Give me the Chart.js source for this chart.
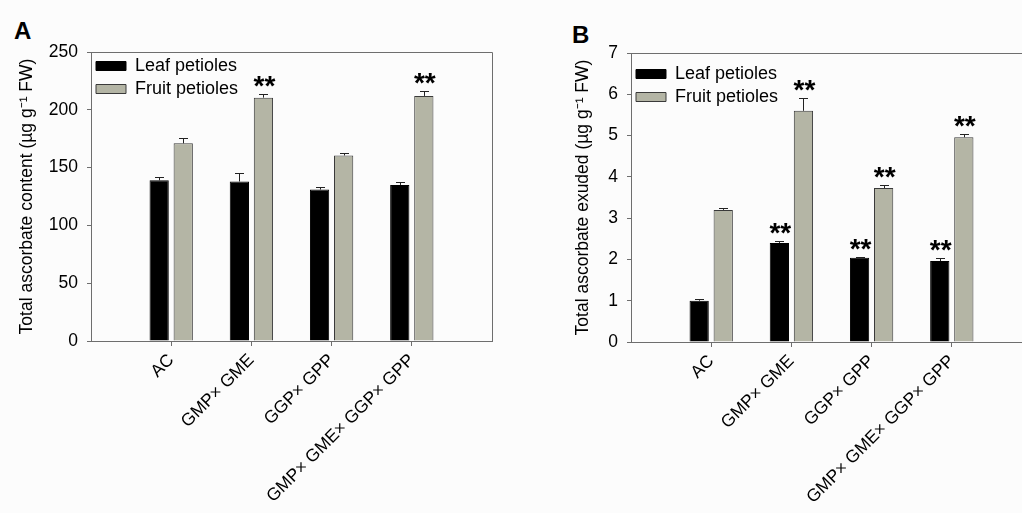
<!DOCTYPE html>
<html>
<head>
<meta charset="utf-8">
<script src="https://cdn.jsdelivr.net/npm/chart.js@4.4.0/dist/chart.umd.min.js"></script>
<style>
  html, body { margin: 0; padding: 0; background: #fcfcfc; overflow: hidden; }
  body { width: 1022px; height: 513px; position: relative; font-family: "Liberation Sans", Arial, sans-serif; }
  .panel { position: absolute; top: 0; height: 513px; }
  .panel canvas { display: block; }
  .letter { position: absolute; font-weight: bold; font-size: 24px; color: #000; }
</style>
</head>
<body>
<div class="letter" style="left:14px; top:17px;">A</div>
<div class="letter" style="left:572px; top:21px;">B</div>
<div class="panel" style="left:0; width:511px;"><canvas id="chartA" width="511" height="513" style="width:511px;height:513px;"></canvas></div>
<div class="panel" style="left:511px; width:540px;"><canvas id="chartB" width="540" height="513" style="width:540px;height:513px;"></canvas></div>
<script>
// categories and values
var categories = ['AC', 'GMP\u00d7 GME', 'GGP\u00d7 GPP', 'GMP\u00d7 GME\u00d7 GGP\u00d7 GPP'];
var seriesNames = ['Leaf petioles', 'Fruit petioles'];

// panel A: total ascorbate content
var contentLeaf = [139, 138, 131, 135];
var contentLeafErr = [2.5, 7.5, 2.5, 2.6];
var contentLeafSig = [false, false, false, false];
var contentFruit = [171, 210.5, 160.5, 212];
var contentFruitErr = [5, 3, 2.3, 4.3];
var contentFruitSig = [false, true, false, true];
var contentTicks = [0, 50, 100, 150, 200, 250];

// panel B: total ascorbate exuded
var exudedLeaf = [1.0, 2.4, 2.04, 1.96];
var exudedLeafErr = [0.05, 0.04, 0.02, 0.08];
var exudedLeafSig = [false, true, true, true];
var exudedFruit = [3.2, 5.6, 3.73, 4.96];
var exudedFruitErr = [0.04, 0.3, 0.08, 0.08];
var exudedFruitSig = [false, true, true, true];
var exudedTicks = [0, 1, 2, 3, 4, 5, 6, 7];

var axisColor = '#6e6e6e';
var fontFamily = '"Liberation Sans", Arial, sans-serif';

function toPoints(values) {
    return values.map(function (v, i) { return { x: i, y: v }; });
}

// error bars (upper half only) and significance stars
const errorBarPlugin = {
    id: 'errorBars',
    afterDatasetsDraw(chart) {
        const ctx = chart.ctx;
        const yScale = chart.scales.y;
        chart.data.datasets.forEach(function (ds, di) {
            const meta = chart.getDatasetMeta(di);
            meta.data.forEach(function (bar, i) {
                const v = ds.data[i].y;
                const yTop = yScale.getPixelForValue(v + ds.errors[i]);
                ctx.save();
                ctx.strokeStyle = '#222';
                ctx.lineWidth = 1;
                ctx.beginPath();
                ctx.moveTo(Math.round(bar.x) + 0.5, bar.y);
                ctx.lineTo(Math.round(bar.x) + 0.5, Math.round(yTop) + 0.5);
                ctx.moveTo(Math.round(bar.x) - 4, Math.round(yTop) + 0.5);
                ctx.lineTo(Math.round(bar.x) + 5, Math.round(yTop) + 0.5);
                ctx.stroke();
                if (ds.sig[i]) {
                    ctx.font = 'bold 28px ' + fontFamily;
                    ctx.fillStyle = '#000';
                    ctx.textAlign = 'center';
                    ctx.textBaseline = 'alphabetic';
                    const m = ctx.measureText('**');
                    ctx.fillText('**', bar.x + 1, yTop - 7 - m.actualBoundingBoxDescent);
                }
                ctx.restore();
            });
        });
    }
};

// top and right frame lines of the plot box; also pins the legend inside the plot
const framePlugin = {
    id: 'frame',
    afterLayout(chart, args, options) {
        const lg = chart.legend;
        if (lg) {
            const dy = chart.chartArea.top + (options.legendShift || 0) - lg.top;
            lg.top += dy;
            lg.bottom += dy;
        }
    },
    beforeDatasetsDraw(chart) {
        const a = chart.chartArea;
        const ctx = chart.ctx;
        ctx.save();
        ctx.strokeStyle = axisColor;
        ctx.lineWidth = 1;
        ctx.beginPath();
        ctx.moveTo(a.left, Math.round(a.top) + 0.5);
        ctx.lineTo(Math.round(a.right) + 0.5, Math.round(a.top) + 0.5);
        ctx.lineTo(Math.round(a.right) + 0.5, a.bottom);
        ctx.stroke();
        ctx.restore();
    }
};

function makeChart(id, opts) {
    const data1 = {
        datasets: [{
            label: seriesNames[0],
            data: toPoints(opts.leaf),
            errors: opts.leafErr,
            sig: opts.leafSig,
            backgroundColor: '#000000',
            borderColor: '#000000',
            borderWidth: 1,
            categoryPercentage: 0.6,
            barPercentage: 0.8
        }, {
            label: seriesNames[1],
            data: toPoints(opts.fruit),
            errors: opts.fruitErr,
            sig: opts.fruitSig,
            backgroundColor: '#b4b5a5',
            borderColor: '#3a3a3a',
            borderWidth: 1,
            categoryPercentage: 0.6,
            barPercentage: 0.8
        }]
    };

    const config = {
        type: 'bar',
        data: data1,
        options: {
            responsive: false,
            maintainAspectRatio: false,
            animation: false,
            layout: { padding: { left: 0, top: opts.top, right: 19, bottom: 0 } },
            plugins: {
                frame: { legendShift: opts.legendShift },
                legend: {
                    position: 'chartArea',
                    align: 'start',
                    labels: {
                        boxWidth: 30,
                        boxHeight: 9,
                        padding: 5,
                        color: '#000',
                        font: { size: 18, family: fontFamily }
                    }
                },
                tooltip: { enabled: false }
            },
            scales: {
                x: {
                    type: 'linear',
                    min: -1,
                    max: 4,
                    offset: false,
                    border: { display: true, color: axisColor, width: 1 },
                    grid: { display: true, offset: false, drawOnChartArea: false, drawTicks: true, tickLength: 5, color: axisColor },
                    afterBuildTicks: function (scale) {
                        scale.ticks = categories.map(function (c, i) { return { value: i }; });
                    },
                    afterFit: function (scale) { scale.height = 513 - opts.bottom; },
                    ticks: {
                        autoSkip: false,
                        minRotation: 45,
                        maxRotation: 45,
                        padding: 4,
                        color: '#000',
                        font: { size: 17.5, family: fontFamily },
                        callback: function (value) { return categories[value]; }
                    }
                },
                y: {
                    min: opts.ticks[0],
                    max: opts.ticks[opts.ticks.length - 1],
                    border: { display: true, color: axisColor, width: 1 },
                    grid: { display: true, drawOnChartArea: false, drawTicks: true, tickLength: 4, color: axisColor },
                    afterBuildTicks: function (scale) {
                        scale.ticks = opts.ticks.map(function (t) { return { value: t }; });
                    },
                    afterFit: function (scale) { scale.width = opts.left; },
                    ticks: {
                        padding: 9,
                        color: '#000',
                        font: { size: 17.5, family: fontFamily }
                    },
                    title: {
                        display: true,
                        text: opts.title,
                        color: '#000',
                        padding: { top: opts.titlePad, bottom: 0 },
                        font: { size: 17.5, family: fontFamily }
                    }
                }
            }
        },
        plugins: [framePlugin, errorBarPlugin]
    };

    return new Chart(document.getElementById(id), config);
}

makeChart('chartA', {
    left: 91, top: 52, bottom: 341, titlePad: 17, legendShift: 0,
    title: 'Total ascorbate content (\u00b5g g\u207b\u00b9 FW)',
    ticks: contentTicks,
    leaf: contentLeaf, leafErr: contentLeafErr, leafSig: contentLeafSig,
    fruit: contentFruit, fruitErr: contentFruitErr, fruitSig: contentFruitSig
});

makeChart('chartB', {
    left: 120, top: 53, bottom: 342, titlePad: 62, legendShift: 7,
    title: 'Total ascorbate exuded (\u00b5g g\u207b\u00b9 FW)',
    ticks: exudedTicks,
    leaf: exudedLeaf, leafErr: exudedLeafErr, leafSig: exudedLeafSig,
    fruit: exudedFruit, fruitErr: exudedFruitErr, fruitSig: exudedFruitSig
});
</script>
</body>
</html>
